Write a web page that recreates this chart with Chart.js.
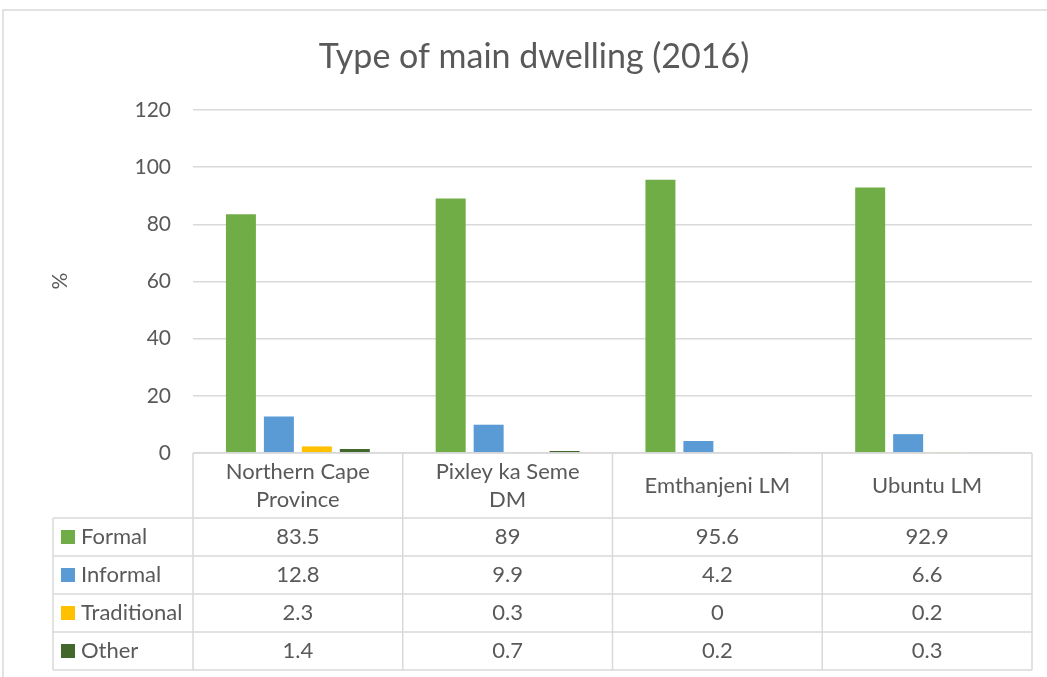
<!DOCTYPE html>
<html>
<head>
<meta charset="utf-8">
<script src="https://cdn.jsdelivr.net/npm/chart.js@4"></script>
<style>
  html, body { margin: 0; padding: 0; background: #fff; }
  #wrap { width: 1047px; height: 677px; }
</style>
</head>
<body>
<div id="wrap"><canvas id="dwellingChart" width="1047" height="677"></canvas></div>
<script>
const categories = [['Northern Cape', 'Province'], ['Pixley ka Seme', 'DM'], ['Emthanjeni LM'], ['Ubuntu LM']];
const seriesNames = ['Formal', 'Informal', 'Traditional', 'Other'];
const formal = [83.5, 89, 95.6, 92.9];
const informal = [12.8, 9.9, 4.2, 6.6];
const traditional = [2.3, 0.3, 0, 0.2];
const other = [1.4, 0.7, 0.2, 0.3];
const yTicks = [0, 20, 40, 60, 80, 100, 120];

const colors = ['#70ad47', '#5b9bd5', '#ffc000', '#43682b'];
const FONT = 'Lato, "Open Sans", sans-serif';
const TEXT = '#595959';
const LINE = '#d9d9d9';

// draws the frame, title, axis title and the data table under the plot
const tablePlugin = {
  id: 'tablePlugin',
  afterDraw: function(chart) {
    const ctx = chart.ctx;
    const x = chart.scales.x;
    const area = chart.chartArea;
    const left = 53;
    const headerBottom = 518;
    const rowH = 38;
    const rows = chart.data.datasets.length;
    const bottom = headerBottom + rows * rowH;

    ctx.save();
    ctx.strokeStyle = LINE;
    ctx.lineWidth = 1.5;

    // outer frame
    ctx.beginPath();
    ctx.moveTo(3, 677);
    ctx.lineTo(3, 10);
    ctx.lineTo(1047, 10);
    ctx.stroke();

    // table lines
    ctx.beginPath();
    ctx.moveTo(area.left, area.bottom);
    ctx.lineTo(area.right, area.bottom);
    for (let r = 0; r <= rows; r++) {
      const y = headerBottom + r * rowH;
      ctx.moveTo(left, y);
      ctx.lineTo(area.right, y);
    }
    ctx.moveTo(left, headerBottom);
    ctx.lineTo(left, bottom);
    const n = chart.data.labels.length;
    const colW = (area.right - area.left) / n;
    for (let c = 0; c <= n; c++) {
      const cx = area.left + c * colW;
      ctx.moveTo(cx, area.bottom);
      ctx.lineTo(cx, bottom);
    }
    ctx.stroke();

    ctx.fillStyle = TEXT;
    ctx.font = '22px ' + FONT;
    ctx.textAlign = 'center';
    ctx.textBaseline = 'middle';

    // header labels
    chart.data.labels.forEach(function(lbl, i) {
      const cx = x.getPixelForValue(i);
      const mid = (area.bottom + headerBottom) / 2;
      if (lbl.length === 1) {
        ctx.fillText(lbl[0], cx, mid);
      } else {
        ctx.fillText(lbl[0], cx, mid - 14);
        ctx.fillText(lbl[1], cx, mid + 14);
      }
    });

    // rows
    chart.data.datasets.forEach(function(ds, r) {
      const cy = headerBottom + r * rowH + rowH / 2;
      ctx.fillStyle = ds.backgroundColor;
      ctx.fillRect(61, cy - 7, 14, 14);
      ctx.fillStyle = TEXT;
      ctx.textAlign = 'left';
      ctx.fillText(ds.label, 81, cy);
      ctx.textAlign = 'center';
      ds.data.forEach(function(v, i) {
        ctx.fillText(String(v), x.getPixelForValue(i), cy);
      });
    });

    // title
    ctx.font = '34px ' + FONT;
    ctx.fillText('Type of main dwelling (2016)', 534, 57);

    // y axis title
    ctx.font = '21px ' + FONT;
    ctx.translate(60, 281);
    ctx.rotate(-Math.PI / 2);
    ctx.fillText('%', 0, 0);
    ctx.restore();
  }
};

const seriesData = [formal, informal, traditional, other];

new Chart(document.getElementById('dwellingChart').getContext('2d'), {
  type: 'bar',
  data: {
    labels: categories,
    datasets: seriesNames.map(function(name, i) {
      return {
        label: name,
        data: seriesData[i],
        backgroundColor: colors[i],
        barPercentage: 0.79,
        categoryPercentage: 0.724
      };
    })
  },
  options: {
    responsive: false,
    animation: false,
    layout: { padding: { left: 0, right: 15, top: 110, bottom: 224 } },
    plugins: {
      legend: { display: false },
      tooltip: { enabled: false }
    },
    scales: {
      x: { display: false },
      y: {
        min: 0,
        max: 120,
        afterFit: function(scale) { scale.width = 193; },
        afterBuildTicks: function(scale) {
          scale.ticks = yTicks.map(function(v) { return { value: v }; });
        },
        grid: { color: LINE, lineWidth: 1.5, drawTicks: false },
        border: { display: false },
        ticks: {
          color: TEXT,
          padding: 22,
          font: { family: FONT, size: 21 }
        }
      }
    }
  },
  plugins: [tablePlugin]
});
</script>
</body>
</html>
